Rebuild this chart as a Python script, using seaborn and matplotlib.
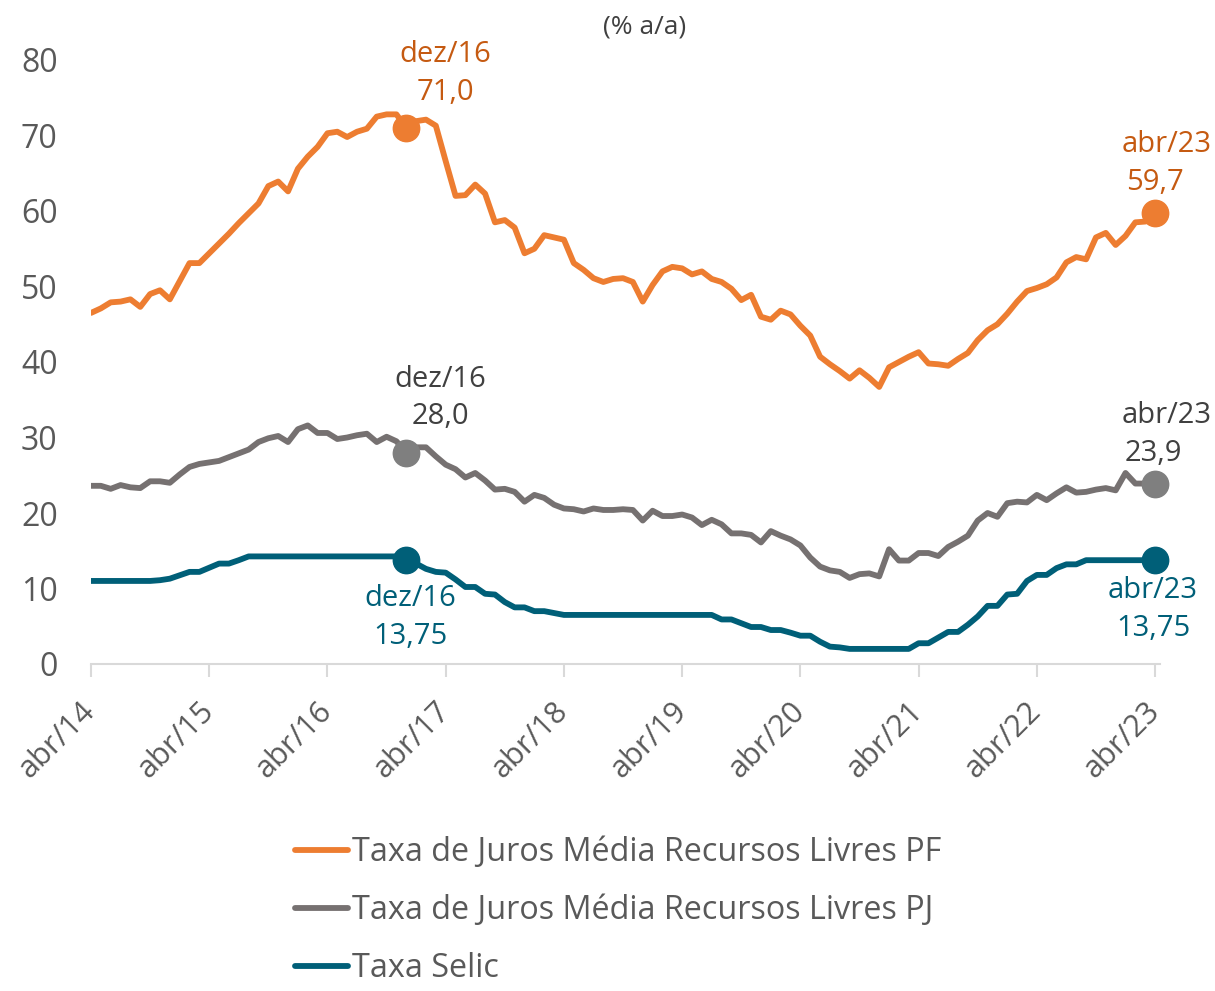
import numpy as np
import pandas as pd
import matplotlib
matplotlib.use('Agg')
import matplotlib.pyplot as plt
import seaborn as sns

# taxas mensais abr/14 .. abr/23 (% a.a.)
taxa_pf = [46.5, 47.1, 47.9, 48.0, 48.3, 47.3, 49.0, 49.5, 48.3, 50.7, 53.1, 53.1,
           54.4, 55.7, 57.0, 58.4, 59.7, 61.0, 63.3, 63.9, 62.6, 65.6, 67.2, 68.5,
           70.3, 70.5, 69.8, 70.5, 70.9, 72.5, 72.8, 72.8, 71.0, 71.9, 72.1, 71.3,
           66.6, 62.0, 62.1, 63.5, 62.3, 58.5, 58.8, 57.8, 54.4, 55.0, 56.8, 56.5,
           56.2, 53.1, 52.2, 51.1, 50.6, 51.0, 51.1, 50.6, 48.0, 50.2, 52.0, 52.6,
           52.4, 51.6, 52.0, 51.0, 50.6, 49.7, 48.2, 48.9, 46.0, 45.6, 46.8, 46.3,
           44.8, 43.5, 40.7, 39.7, 38.8, 37.8, 38.9, 37.9, 36.7, 39.3, 40.0, 40.7,
           41.3, 39.8, 39.7, 39.5, 40.4, 41.2, 42.9, 44.2, 45.0, 46.4, 48.0, 49.4,
           49.8, 50.3, 51.2, 53.2, 53.9, 53.6, 56.5, 57.1, 55.5, 56.7, 58.5, 58.6,
           59.7]
taxa_pj = [23.6, 23.6, 23.2, 23.7, 23.4, 23.3, 24.2, 24.2, 24.0, 25.1, 26.1, 26.5,
           26.7, 26.9, 27.4, 27.9, 28.4, 29.4, 29.9, 30.2, 29.4, 31.1, 31.6, 30.6,
           30.6, 29.8, 30.0, 30.3, 30.5, 29.4, 30.1, 29.5, 28.0, 28.7, 28.7, 27.5,
           26.4, 25.8, 24.7, 25.3, 24.3, 23.1, 23.2, 22.8, 21.5, 22.4, 22.0, 21.1,
           20.6, 20.5, 20.2, 20.6, 20.4, 20.4, 20.5, 20.4, 19.0, 20.3, 19.6, 19.6,
           19.8, 19.4, 18.4, 19.1, 18.5, 17.3, 17.3, 17.1, 16.1, 17.6, 17.0, 16.5,
           15.7, 14.1, 12.9, 12.4, 12.2, 11.4, 11.9, 12.0, 11.6, 15.2, 13.7, 13.7,
           14.7, 14.7, 14.3, 15.5, 16.2, 17.0, 19.0, 20.0, 19.5, 21.3, 21.5, 21.4,
           22.4, 21.7, 22.6, 23.4, 22.7, 22.8, 23.1, 23.3, 23.0, 25.3, 23.9, 23.9,
           23.9]
selic = [11.0, 11.0, 11.0, 11.0, 11.0, 11.0, 11.0, 11.1, 11.3, 11.75, 12.2, 12.2,
         12.75, 13.3, 13.3, 13.75, 14.25, 14.25, 14.25, 14.25, 14.25, 14.25, 14.25, 14.25,
         14.25, 14.25, 14.25, 14.25, 14.25, 14.25, 14.25, 14.25, 13.75, 13.3, 12.6, 12.2,
         12.1, 11.2, 10.2, 10.2, 9.3, 9.2, 8.2, 7.5, 7.5, 7.0, 7.0, 6.75,
         6.5, 6.5, 6.5, 6.5, 6.5, 6.5, 6.5, 6.5, 6.5, 6.5, 6.5, 6.5,
         6.5, 6.5, 6.5, 6.5, 5.9, 5.9, 5.4, 4.9, 4.9, 4.5, 4.5, 4.15,
         3.75, 3.75, 2.95, 2.3, 2.2, 2.0, 2.0, 2.0, 2.0, 2.0, 2.0, 2.0,
         2.75, 2.75, 3.5, 4.25, 4.25, 5.2, 6.3, 7.7, 7.7, 9.2, 9.3, 11.0,
         11.8, 11.8, 12.7, 13.2, 13.2, 13.75, 13.75, 13.75, 13.75, 13.75, 13.75, 13.75,
         13.75]
anos = ['abr/14', 'abr/15', 'abr/16', 'abr/17', 'abr/18', 'abr/19', 'abr/20',
        'abr/21', 'abr/22', 'abr/23']

nomes = ['Taxa de Juros Média Recursos Livres PF',
         'Taxa de Juros Média Recursos Livres PJ',
         'Taxa Selic']
cores = ['#ED7D31', '#767171', '#005F78']
cor_marc = ['#ED7D31', '#7F7F7F', '#005F78']
cor_txt = ['#C55A11', '#404040', '#005F78']

df = pd.DataFrame({'mes': np.arange(len(taxa_pf))})
df[nomes[0]] = taxa_pf
df[nomes[1]] = taxa_pj
df[nomes[2]] = selic
longo = df.melt(id_vars='mes', var_name='serie', value_name='taxa')

sns.set_style('white')
plt.rcParams['font.family'] = ['Open Sans', 'DejaVu Sans']

fig = plt.figure(figsize=(12.15, 9.91), dpi=100)
ax = fig.add_axes([91 / 1215, 1 - 664 / 991, (1160 - 91) / 1215, (664 - 60) / 991])

sns.lineplot(data=longo, x='mes', y='taxa', hue='serie', hue_order=nomes,
             palette=cores, linewidth=4.2, ax=ax, legend=False)

# marcadores e rotulos dez/16 e abr/23
i_dez = 32
i_fim = len(taxa_pf) - 1
valores = [taxa_pf, taxa_pj, selic]
rot = [['71,0', '59,7'], ['28,0', '23,9'], ['13,75', '13,75']]
# deslocamentos em pixels (dx, dy) para mes/ano e valor
desl = [
    [((39, 73), (39, 35)), ((12, 69), (0, 31))],
    [((34, 73), (34, 36)), ((12, 68), (-2, 30))],
    [((4, -38), (4, -76)), ((-2, -30), (-2, -68))],
]
for k in range(3):
    for j, (i, lab) in enumerate([(i_dez, 'dez/16'), (i_fim, 'abr/23')]):
        y = valores[k][i]
        ax.plot(i, y, 'o', ms=19, color=cor_marc[k], zorder=5, clip_on=False)
        (d1, d2) = desl[k][j]
        ax.annotate(lab, (i, y), xytext=(d1[0] * 0.72, d1[1] * 0.72),
                    textcoords='offset points', ha='center', va='center',
                    fontsize=21, color=cor_txt[k])
        ax.annotate(rot[k][j], (i, y), xytext=(d2[0] * 0.72, d2[1] * 0.72),
                    textcoords='offset points', ha='center', va='center',
                    fontsize=21, color=cor_txt[k])

ax.set_xlim(0, 108.5)
ax.set_ylim(0, 80)
ax.set_yticks(range(0, 81, 10))
ax.set_xticks(range(0, 109, 12))
ax.set_xticklabels(anos, rotation=45, ha='right', va='center', rotation_mode='anchor')
ax.set_xlabel('')
ax.set_ylabel('')
for s in ['top', 'right', 'left']:
    ax.spines[s].set_visible(False)
ax.spines['bottom'].set_color('#D9D9D9')
ax.spines['bottom'].set_linewidth(1.5)
ax.tick_params(axis='y', length=0, pad=24, labelsize=23, labelcolor='#595959')
ax.tick_params(axis='x', direction='out', length=9, width=1.5, color='#D9D9D9',
               pad=22, labelsize=22, labelcolor='#595959', bottom=True)

fig.text(645 / 1215, 1 - 27 / 991, '(% a/a)', ha='center', va='center',
         fontsize=19, color='#404040')

handles = [plt.Line2D([], [], color=c, lw=4.2, solid_capstyle='round') for c in cores]
fig.legend(handles, nomes, loc='upper left', bbox_to_anchor=(295 / 1215, 1 - 836 / 991),
           frameon=False, fontsize=23.3, handlelength=1.65, handletextpad=0.1,
           labelspacing=0.78, borderpad=0, borderaxespad=0, labelcolor='#595959')

fig.savefig('out.png', dpi=100)
plt.close()
